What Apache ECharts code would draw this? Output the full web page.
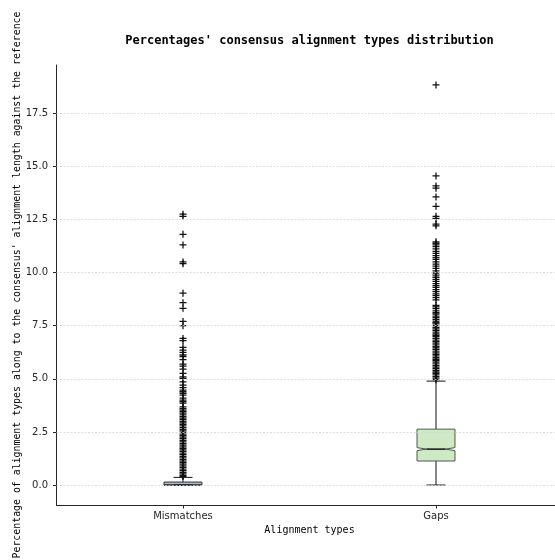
<!DOCTYPE html>
<html>
<head>
<meta charset="utf-8">
<script src="https://cdn.jsdelivr.net/npm/echarts@6/dist/echarts.min.js"></script>
<style>html,body{margin:0;padding:0;background:#fff}#c{width:555px;height:560px}</style>
</head>
<body>
<div id="c"></div>
<script>
// ---- data ----
const categories = ['Mismatches', 'Gaps'];
const positions = [1, 2];
const whiskerLow = [0, 0];
const q1 = [0, 1.13];
const notchLow = [0, 1.62];
const median = [0, 1.69];
const notchHigh = [0, 1.76];
const q3 = [0.14, 2.63];
const whiskerHigh = [0.36, 4.89];
const yTicks = [0, 2.5, 5, 7.5, 10, 12.5, 15, 17.5];

const mismatchOutliers = [12.75, 12.65, 11.8, 11.3, 10.5, 10.42, 9.03, 8.58, 8.32, 7.7, 7.5, 6.9, 6.8,
  6.48, 6.35, 6.24, 6.12, 6.04, 5.9, 5.69, 5.6, 5.45, 5.25, 5.09, 5.02, 4.86, 4.7, 4.58, 4.47, 4.4,
  4.32, 4.23, 4.09, 4.0, 3.93, 3.86, 3.68, 3.6, 3.52, 3.45, 3.38, 3.3, 3.22, 3.15, 3.08, 3.0, 2.92,
  2.85, 2.78, 2.7, 2.62, 2.55, 2.48, 2.4, 2.33, 2.25, 2.18, 2.1, 2.03, 1.95, 1.88, 1.8, 1.73, 1.65,
  1.58, 1.5, 1.43, 1.35, 1.28, 1.2, 1.13, 1.05, 0.98, 0.9, 0.83, 0.75, 0.68, 0.6, 0.53, 0.45, 0.4];

const gapOutliers = [18.83, 14.55, 14.08, 13.97, 13.56, 13.12, 12.65, 12.55, 12.28, 12.2, 11.45,
  11.38, 11.3, 11.22, 11.12, 11.0, 10.9, 10.8, 10.7, 10.62, 10.5, 10.4, 10.3, 10.2, 10.08, 9.98,
  9.88, 9.78, 9.68, 9.58, 9.48, 9.38, 9.3, 9.2, 9.1, 9.0, 8.92, 8.82, 8.72, 8.45, 8.38, 8.3, 8.2,
  8.12, 8.05, 7.95, 7.88, 7.8, 7.72, 7.65, 7.58, 7.5, 7.42, 7.35, 7.28, 7.2, 7.12, 7.05, 6.98, 6.9,
  6.82, 6.75, 6.68, 6.6, 6.52, 6.45, 6.38, 6.3, 6.22, 6.15, 6.08, 6.0, 5.92, 5.85, 5.78, 5.7, 5.62,
  5.55, 5.48, 5.4, 5.32, 5.25, 5.18, 5.1, 5.03, 4.96];

const boxFill = ['#a9bbce', '#cdeac5'];
const boxEdge = ['#333333', '#4d5a4b'];

// ---- build ----
const boxData = positions.map((p, i) => [p, whiskerLow[i], q1[i], notchLow[i], median[i], notchHigh[i], q3[i], whiskerHigh[i]]);
const outlierData = [];
mismatchOutliers.forEach(v => outlierData.push([positions[0], v]));
gapOutliers.forEach(v => outlierData.push([positions[1], v]));

const BOXW = 0.15;
const ink = '#262626';

const chart = echarts.init(document.getElementById('c'), null, {renderer: 'canvas'});
chart.setOption({
  animation: false,
  backgroundColor: '#ffffff',
  graphic: [{
    type: 'text', x: 309.5, y: 41, z: 100,
    style: {text: "Percentages' consensus alignment types distribution", x: 0, y: 0,
      textAlign: 'center', textVerticalAlign: 'middle',
      font: 'bold 12px "DejaVu Sans Mono"', fill: '#000'}
  }],
  grid: {left: 56.5, right: -7.5, top: 65, bottom: 55, containLabel: false, outerBoundsMode: 'none'},
  xAxis: {
    type: 'value', min: 0.5, max: 2.5,
    name: 'Alignment types', nameLocation: 'middle', nameGap: 20, nameMoveOverlap: false,
    nameTextStyle: {fontFamily: 'DejaVu Sans Mono', fontSize: 10, color: '#000'},
    axisLine: {show: true, onZero: false, lineStyle: {color: ink, width: 1}},
    axisTick: {show: true, length: 3.5, customValues: positions, lineStyle: {color: ink, width: 1}},
    axisLabel: {customValues: positions, margin: 6, fontFamily: 'DejaVu Sans', fontSize: 10, color: ink,
      formatter: v => categories[positions.indexOf(Math.round(v))] || ''},
    splitLine: {show: false}
  },
  yAxis: {
    type: 'value', min: -0.94, max: 19.77,
    name: "Percentage of alignment types along to the consensus' alignment length against the reference",
    nameLocation: 'middle', nameGap: 34, nameRotate: 90, nameMoveOverlap: false,
    nameTextStyle: {fontFamily: 'DejaVu Sans Mono', fontSize: 9.9, color: '#000'},
    axisLine: {show: true, onZero: false, lineStyle: {color: ink, width: 1}},
    axisTick: {show: true, length: 3.5, customValues: yTicks, lineStyle: {color: ink, width: 1}},
    axisLabel: {customValues: yTicks, margin: 8.5, fontFamily: 'DejaVu Sans', fontSize: 10, color: ink,
      formatter: v => v.toFixed(1)},
    splitLine: {show: false}
  },
  series: [
    {
      type: 'line', data: [], silent: true,
      markLine: {
        silent: true, symbol: ['none', 'none'], label: {show: false},
        lineStyle: {color: '#d6d6d6', width: 0.8, type: [2, 1.5]},
        data: yTicks.map(t => ({yAxis: t}))
      },
      z: 1
    },
    {
      type: 'custom', z: 3,
      data: boxData,
      renderItem: function (params, api) {
        const i = params.dataIndex;
        const pos = api.value(0), wl = api.value(1), a = api.value(2), nl = api.value(3),
          md = api.value(4), nh = api.value(5), b = api.value(6), wh = api.value(7);
        const hw = BOXW / 2, cw = BOXW / 4;
        const P = (x, y) => api.coord([x, y]);
        const poly = [[pos - hw, a], [pos + hw, a], [pos + hw, nl], [pos + cw, md], [pos + hw, nh],
          [pos + hw, b], [pos - hw, b], [pos - hw, nh], [pos - cw, md], [pos - hw, nl]].map(p => P(p[0], p[1]));
        const line = (x1, y1, x2, y2, color, w) => {
          const p1 = P(x1, y1), p2 = P(x2, y2);
          return {type: 'line', shape: {x1: p1[0], y1: p1[1], x2: p2[0], y2: p2[1]},
            style: {stroke: color, lineWidth: w}};
        };
        return {
          type: 'group',
          children: [
            line(pos, wl, pos, a, '#111', 1),
            line(pos, b, pos, wh, '#111', 1),
            line(pos - cw, wl, pos + cw, wl, '#111', 1),
            line(pos - cw, wh, pos + cw, wh, '#111', 1),
            {type: 'polygon', shape: {points: poly},
              style: {fill: boxFill[i], stroke: boxEdge[i], lineWidth: 1}},
            line(pos - cw, md, pos + cw, md, '#111', 1.5)
          ]
        };
      }
    },
    {
      type: 'scatter', z: 4,
      data: outlierData,
      symbol: 'path://M0,4.1H10V5.9H0Z M4.1,0H5.9V10H4.1Z',
      symbolSize: 7,
      itemStyle: {color: '#111', opacity: 1},
      silent: true
    }
  ]
});
</script>
</body>
</html>
